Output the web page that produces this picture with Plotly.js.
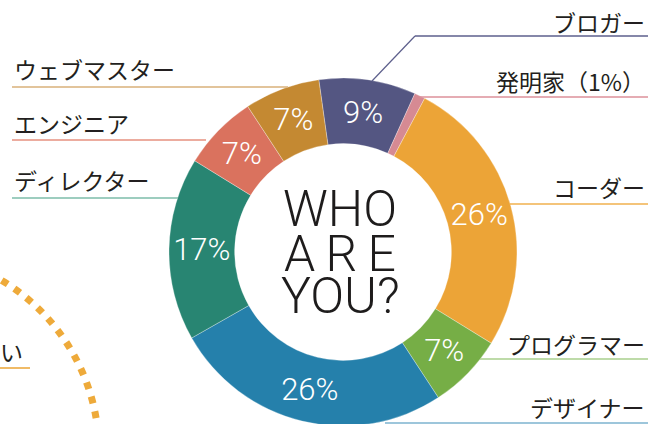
<!DOCTYPE html>
<html>
<head>
<meta charset="utf-8">
<script src="https://cdn.plot.ly/plotly-3.0.1.min.js"></script>
<style>
html,body{margin:0;padding:0;overflow:hidden;background:#fff;}
#chart{width:670px;height:430px;}
</style>
</head>
<body>
<div id="chart"></div>
<script>
// ---- data ----
var labels = ['ブロガー','発明家','コーダー','プログラマー','デザイナー','ディレクター','エンジニア','ウェブマスター'];
var values = [9, 1, 26, 7, 26, 17, 7, 7];
var colors = ['#545682','#d68a93','#eca437','#76ae46','#2580ab','#288572','#da725e','#c48932'];
var lineColors = ['#5d5f8c','#dc909a','#f0b04e','#a9cf8d','#7db3cf','#7cbcaa','#e6917f','#d8b07a'];
var sliceText = ['9%','','26%','7%','26%','17%','7%','7%'];
var outerLabels = ['ブロガー','発明家（1%）','コーダー','プログラマー','デザイナー','ディレクター','エンジニア','ウェブマスター'];
var centerLines = ['WHO','A\u2009R\u2009E','YOU?'];
var sideText = 'い';

var W = 670, H = 430;
function X(px){ return px / W; }
function Y(py){ return 1 - py / H; }

// label placement (pixel): [textY, lineY, lineStartX, lineEndX, side]
var labelPos = [
  [22, 36, 415, 648, 'right'],
  [81, 97, 420, 648, 'right'],
  [187, 204, 510, 648, 'right'],
  [344, 359, 480, 648, 'right'],
  [407, 423, 385, 648, 'right'],
  [180, 198, 12, 178, 'left'],
  [123, 140, 12, 206, 'left'],
  [69, 87, 12, 288, 'left']
];

var labelFont = {family: '"Noto Sans CJK JP", "Noto Sans", sans-serif', size: 23, color: '#231f20'};

var annotations = [];
var shapes = [];
labelPos.forEach(function(p, i){
  var right = p[4] === 'right';
  annotations.push({
    xref:'paper', yref:'paper', x: right ? X(647) : X(12), y: Y(p[0]),
    xanchor: right ? 'right' : 'left', yanchor:'middle',
    text: outerLabels[i], showarrow:false, font: labelFont
  });
  shapes.push({
    type:'line', xref:'paper', yref:'paper',
    x0: X(p[2]), x1: X(p[3]), y0: Y(p[1]), y1: Y(p[1]),
    line:{color: lineColors[i], width:1.3}
  });
});
// blogger leader diagonal
shapes.push({type:'line', xref:'paper', yref:'paper', x0:X(372), y0:Y(81), x1:X(415), y1:Y(36),
  line:{color: lineColors[0], width:1.2}});

// center title
var centerY = [209, 254, 296];
centerLines.forEach(function(t, i){
  annotations.push({xref:'paper', yref:'paper', x:X(340), y:Y(centerY[i]), xanchor:'center', yanchor:'middle',
    text:t, showarrow:false,
    font:{family:'Roboto, "Liberation Sans Narrow", sans-serif', size:50, weight:300, color:'#1e1c1c'}});
});

// partial side item at left
annotations.push({xref:'paper', yref:'paper', x:X(25), y:Y(351), xanchor:'right', yanchor:'middle',
  text: sideText, showarrow:false, font: labelFont});
shapes.push({type:'line', xref:'paper', yref:'paper', x0:X(0), x1:X(30), y0:Y(368), y1:Y(368),
  line:{color:'#eba535', width:1.5}});
// dotted decorative arc
shapes.push({type:'circle', xref:'paper', yref:'paper', x0:X(-301), x1:X(99), y0:Y(252), y1:Y(652),
  line:{color:'#eeaa3a', width:7, dash:'7px,8px'}});

var trace = {
  type:'pie',
  labels: labels,
  values: values,
  text: sliceText,
  textinfo:'text',
  textposition:'inside',
  insidetextorientation:'horizontal',
  textfont:{family:'Roboto, "Open Sans", sans-serif', size:31, color:'#ffffff', weight:300},
  hole: 0.623,
  sort:false,
  direction:'clockwise',
  rotation:-8,
  marker:{colors: colors, line:{color:'rgba(255,255,255,0.5)', width:0.6}},
  domain:{x:[X(169), X(517)], y:[Y(426), Y(78)]},
  showlegend:false,
  hoverinfo:'label+percent'
};

var layout = {
  width: W, height: H,
  margin:{l:0, r:0, t:0, b:0},
  paper_bgcolor:'#ffffff',
  plot_bgcolor:'#ffffff',
  showlegend:false,
  annotations: annotations,
  shapes: shapes
};

// show each slice label at full font size, centred in the ring on the slice's
// mid-angle as computed by Plotly (calcdata pxmid, cx, cy)
function placeSliceText(gd){
  var cd = gd.calcdata[0];
  var cd0 = cd[0];
  var k = (1 + trace.hole) / 2;
  var slices = gd.querySelectorAll('g.slice');
  Array.prototype.forEach.call(slices, function(s, i){
    var t = s.querySelector('text');
    var pt = cd[i];
    if(!t || !pt || !pt.pxmid) return;
    var bb = t.getBBox();
    if(!bb.width) return;
    var tx = cd0.cx + pt.pxmid[0] * k;
    var ty = cd0.cy + pt.pxmid[1] * k;
    t.setAttribute('transform', 'translate(' + (tx - bb.x - bb.width / 2) + ',' + (ty - bb.y - bb.height / 2) + ')');
  });
}

Plotly.newPlot('chart', [trace], layout, {displayModeBar:false, staticPlot:true}).then(placeSliceText);
</script>
</body>
</html>
